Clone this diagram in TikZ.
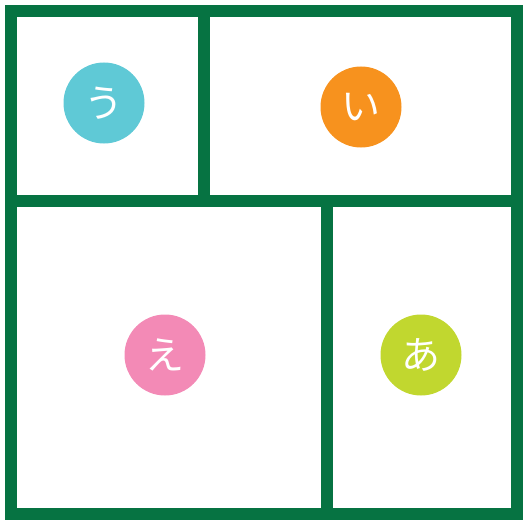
\documentclass[tikz,border=0pt]{standalone}
\usepackage{fontspec}
\newfontfamily\jpfont{Noto Sans CJK JP}
\usepackage{tikz}
\usetikzlibrary{positioning}
\definecolor{FrameGreen}{HTML}{067342}
\definecolor{KanaCyan}{HTML}{5FC9D6}
\definecolor{KanaOrange}{HTML}{F7921E}
\definecolor{KanaPink}{HTML}{F38AB6}
\definecolor{KanaLime}{HTML}{C1D72F}

\begin{document}
\begin{tikzpicture}[x=1pt,y=-1pt,
 wall/.style={draw=FrameGreen,line width=12.5pt,line cap=rect},
 kana/.style={circle,minimum size=81pt,inner sep=0pt,text=white,
 font=\jpfont\fontsize{39}{39}\selectfont}]
\useasboundingbox (0,0) rectangle (523,524);
% outer frame and walls
\coordinate (tl) at (11,11);
\coordinate (br) at (517,514);
\coordinate (midl) at (11,201);
\coordinate (midr) at (517,201);
\coordinate (topw) at (204,11);
\coordinate (midw) at (204,201);
\coordinate (lowt) at (327,201);
\coordinate (lowb) at (327,514);
\draw[wall] (tl) rectangle (br);
\draw[wall] (midl) -- (midr);
\draw[wall] (topw) -- (midw);
\draw[wall] (lowt) -- (lowb);
% rooms
\foreach \name/\col/\x/\y/\txt in {u/KanaCyan/104/103/う,i/KanaOrange/361/107/い,
 e/KanaPink/165/355/え,a/KanaLime/421/355/あ} {
 \node[kana,fill=\col] (\name) at (\x,\y) {\txt};
}
\end{tikzpicture}
\end{document}
